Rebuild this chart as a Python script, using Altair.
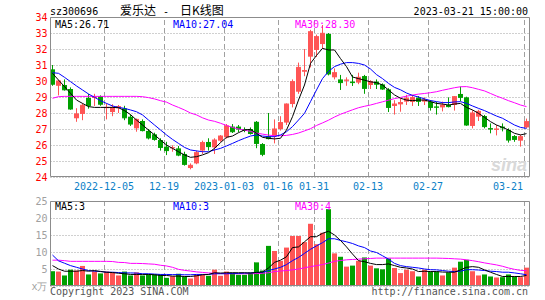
import altair as alt
import pandas as pd

# ---------------- data ----------------
opens = [30.73, 29.7, 29.75, 29.5, 27.67, 27.94, 28.94, 28.94, 29.05, 28.3,
         28.06, 28.3, 28.29, 27.77, 27.04, 27.5, 26.88, 26.67, 26.31, 25.9,
         25.8, 25.79, 25.44, 24.56, 24.85, 25.65, 26.19, 25.85, 26.27, 26.48,
         27.15, 27.15, 27.0, 27.0, 27.45, 26.06, 26.55, 26.55, 27.0, 27.4,
         28.56, 29.33, 30.58, 31.52, 31.94, 32.31, 32.94, 30.23, 30.1, 30.02,
         29.96, 29.9, 30.31, 29.75, 29.96, 29.79, 29.48, 28.44, 28.54, 28.71,
         28.69, 28.96, 28.71, 28.71, 28.4, 28.35, 28.5, 28.5, 29.19, 28.98,
         27.19, 27.77, 27.81, 27.05, 26.95, 27.15, 26.94, 26.56, 26.27, 27.1]
highs = [31.0, 30.05, 30.1, 29.6, 28.3, 28.6, 29.19, 29.2, 29.1, 28.6,
         28.55, 28.5, 28.45, 27.9, 27.65, 27.6, 27.0, 26.77, 26.42, 26.2,
         25.98, 25.94, 25.58, 24.85, 25.65, 26.27, 26.42, 26.42, 26.62, 27.31,
         27.31, 27.25, 27.1, 27.1, 27.5, 26.12, 28.0, 27.6, 27.8, 28.6,
         30.1, 31.15, 32.0, 33.2, 32.9, 33.5, 33.0, 30.79, 30.38, 30.23,
         30.38, 30.52, 30.38, 30.05, 30.1, 29.85, 29.55, 28.8, 28.9, 29.13,
         29.13, 29.06, 28.98, 28.81, 28.7, 28.71, 28.98, 29.06, 29.65, 29.02,
         28.17, 28.2, 27.88, 27.35, 27.25, 27.35, 27.04, 26.62, 26.65, 27.65]
lows = [29.7, 29.1, 29.4, 28.2, 27.45, 27.55, 28.27, 28.44, 28.45, 27.6,
        27.8, 28.0, 27.55, 27.19, 26.83, 26.85, 26.35, 26.27, 25.65, 25.37,
        25.58, 25.3, 24.71, 24.48, 24.8, 25.44, 25.65, 25.44, 26.2, 26.4,
        26.75, 26.8, 26.8, 26.65, 25.8, 25.3, 26.35, 26.1, 26.9, 27.25,
        28.35, 29.2, 30.3, 30.85, 31.5, 32.0, 30.35, 30.1, 29.44, 29.7,
        29.69, 29.8, 29.2, 29.5, 29.5, 29.45, 28.06, 27.9, 28.08, 28.5,
        28.44, 28.44, 28.5, 28.15, 27.9, 28.1, 28.35, 28.15, 28.75, 27.2,
        27.04, 27.5, 27.04, 26.73, 26.6, 26.85, 26.15, 26.2, 25.9, 27.04]
closes = [29.8, 30.0, 29.45, 28.25, 27.94, 28.48, 28.46, 29.0, 28.55, 28.35,
          28.35, 28.4, 27.7, 27.31, 27.6, 26.9, 26.44, 26.35, 25.85, 25.65,
          25.83, 25.37, 24.79, 24.73, 25.52, 26.15, 25.9, 26.31, 26.56, 27.19,
          26.83, 27.0, 26.92, 26.72, 26.1, 25.42, 26.4, 27.0, 27.4, 28.56,
          29.96, 30.85, 30.65, 33.08, 32.77, 32.98, 30.44, 30.52, 29.9, 30.06,
          29.9, 30.23, 29.54, 29.96, 29.8, 29.5, 28.35, 28.56, 28.65, 28.92,
          28.96, 28.73, 28.81, 28.35, 28.36, 28.5, 28.4, 29.02, 28.98, 27.25,
          28.0, 28.1, 27.15, 27.0, 27.0, 27.08, 26.31, 26.35, 26.52, 27.46]
ma5 = [30.48, 30.06, 29.65, 29.23, 28.81, 28.6, 28.4, 28.35, 28.35, 28.35,
       28.35, 28.33, 28.15, 27.9, 27.56, 27.25, 26.94, 26.63, 26.31, 26.0,
       25.79, 25.58, 25.38, 25.23, 25.27, 25.38, 25.52, 25.79, 26.15, 26.48,
       26.56, 26.77, 26.94, 26.98, 26.73, 26.48, 26.42, 26.38, 26.42, 26.94,
       27.77, 28.81, 29.75, 31.1, 31.6, 32.04, 31.94, 31.94, 31.4, 30.9,
       30.25, 30.15, 30.05, 29.95, 29.9, 29.75, 29.44, 29.13, 28.92, 28.81,
       28.77, 28.81, 28.81, 28.71, 28.6, 28.56, 28.5, 28.56, 28.6, 28.35,
       28.19, 27.98, 27.73, 27.46, 27.25, 27.1, 26.94, 26.73, 26.63, 26.71]
ma10 = [30.52, 30.48, 30.23, 29.96, 29.69, 29.44, 29.19, 28.98, 28.77, 28.6,
        28.44, 28.35, 28.29, 28.19, 28.08, 27.88, 27.56, 27.25, 26.94, 26.63,
        26.35, 26.1, 25.85, 25.69, 25.63, 25.58, 25.58, 25.69, 25.79, 25.94,
        26.1, 26.27, 26.42, 26.56, 26.63, 26.56, 26.52, 26.52, 26.63, 26.83,
        27.15, 27.56, 27.98, 28.71, 29.44, 30.15, 30.6, 30.9, 31.05, 31.15,
        31.15, 31.1, 31.0, 30.75, 30.4, 30.15, 29.85, 29.6, 29.45, 29.25,
        29.1, 29.0, 28.88, 28.78, 28.71, 28.65, 28.65, 28.69, 28.71, 28.6,
        28.44, 28.29, 28.15, 27.98, 27.81, 27.67, 27.46, 27.25, 27.1, 27.04]
ma30 = [28.92, 29.02, 29.04, 29.04, 29.04, 29.04, 29.04, 29.04, 29.04, 29.04,
        29.04, 29.04, 29.04, 29.04, 29.04, 29.02, 28.96, 28.88, 28.77, 28.68,
        28.5, 28.35, 28.19, 28.0, 27.88, 27.7, 27.56, 27.48, 27.36, 27.22,
        27.1, 27.0, 26.93, 26.85, 26.75, 26.68, 26.62, 26.58, 26.58, 26.6,
        26.66, 26.75, 26.88, 27.02, 27.22, 27.38, 27.55, 27.75, 27.92, 28.06,
        28.2, 28.33, 28.42, 28.5, 28.6, 28.7, 28.8, 28.9, 28.97, 29.05,
        29.12, 29.18, 29.22, 29.27, 29.33, 29.42, 29.5, 29.58, 29.64, 29.65,
        29.58, 29.48, 29.38, 29.22, 29.06, 28.92, 28.77, 28.64, 28.5, 28.4]
vol = [4.35, 4.25, 3.1, 4.8, 4.55, 5.9, 3.4, 4.35, 3.7, 4.25,
       3.9, 3.1, 4.25, 3.1, 4.0, 3.1, 3.4, 3.4, 3.4, 2.4,
       2.9, 3.6, 2.8, 2.2, 3.4, 3.4, 3.0, 4.8, 3.0, 4.25,
       3.9, 3.3, 3.3, 4.0, 6.95, 4.55, 11.8, 10.3, 7.4, 11.3,
       14.7, 14.7, 12.9, 18.3, 12.3, 15.65, 22.6, 9.6, 8.6, 5.7,
       6.0, 7.4, 8.4, 6.0, 5.2, 4.9, 8.1, 5.3, 3.8, 4.8,
       4.35, 2.8, 4.8, 4.25, 4.25, 3.1, 4.0, 5.4, 7.15, 7.7,
       4.35, 3.1, 3.4, 2.8, 2.5, 2.6, 3.4, 2.8, 2.6, 5.4]
vma5 = [6.0, 5.0, 4.35, 4.35, 4.35, 4.55, 4.35, 4.55, 4.25, 4.05,
        3.95, 3.75, 3.6, 3.4, 3.4, 3.4, 3.4, 3.3, 3.1, 3.1,
        2.9, 2.9, 2.8, 2.8, 3.0, 3.3, 3.4, 3.9, 3.8, 3.9,
        3.9, 3.9, 3.9, 3.8, 4.0, 4.1, 5.3, 6.95, 7.6, 8.6,
        11.3, 11.5, 13.0, 14.5, 14.5, 15.5, 16.1, 15.0, 13.4, 11.5,
        9.4, 7.45, 7.15, 6.65, 6.3, 6.3, 6.5, 6.0, 5.5, 5.3,
        5.0, 4.25, 4.35, 4.25, 4.25, 4.1, 4.05, 4.05, 4.75, 5.5,
        5.7, 5.5, 4.75, 4.05, 3.4, 2.8, 2.8, 2.8, 2.8, 3.1]
vma10 = [9.1, 7.4, 6.7, 6.0, 5.5, 5.0, 4.55, 4.35, 4.3, 4.05,
         4.05, 3.95, 3.85, 3.85, 3.8, 3.6, 3.6, 3.5, 3.4, 3.4,
         3.35, 3.35, 3.3, 3.3, 3.4, 3.4, 3.4, 3.6, 3.6, 3.6,
         3.7, 3.7, 3.8, 3.8, 4.0, 4.0, 4.55, 5.0, 5.5, 6.3,
         7.45, 8.4, 9.6, 10.8, 11.8, 12.75, 13.9, 13.9, 13.4, 13.0,
         12.5, 11.8, 11.3, 10.3, 9.85, 8.9, 7.9, 6.65, 6.0, 5.7,
         5.5, 5.3, 5.0, 4.8, 4.75, 4.55, 4.35, 4.25, 4.35, 4.8,
         4.8, 4.7, 4.55, 4.35, 4.25, 4.05, 4.05, 3.85, 3.6, 3.3]
vma30 = [7.6, 7.6, 7.45, 7.25, 7.25, 7.25, 7.25, 7.25, 7.25, 7.25,
         7.2, 6.95, 6.9, 6.65, 6.65, 6.6, 6.5, 6.4, 6.1, 5.9,
         5.5, 4.9, 4.6, 4.4, 4.15, 4.0, 3.85, 3.75, 3.7, 3.65,
         3.6, 3.6, 3.6, 3.6, 3.65, 3.75, 3.9, 4.25, 4.4, 4.55,
         4.75, 5.0, 5.35, 5.7, 6.0, 6.3, 6.75, 7.25, 7.5, 7.7,
         7.8, 7.9, 8.0, 8.1, 8.2, 8.2, 8.2, 8.2, 8.2, 8.2,
         8.2, 8.2, 8.2, 8.2, 8.2, 8.15, 8.1, 8.0, 7.9, 7.7,
         7.45, 7.15, 6.8, 6.5, 6.2, 5.8, 5.3, 4.9, 4.6, 4.5]
date_idx = [9, 19, 29, 38, 44, 53, 63, 79]
date_labels = ["2022-12-05", "12-19", "2023-01-03", "01-16", "01-31", "02-13", "02-27", "03-21"]
price_ticks = list(range(24, 35))
vol_ticks = [0, 5, 10, 15, 20, 25]
top_ma_text = ["MA5:26.71", "MA10:27.04", "MA30:28.30"]
vol_ma_text = ["MA5:3", "MA10:3", "MA30:4"]

# ---------------- layout constants ----------------
N = len(closes)
W = 480                 # plot width (6 px per trading day)
H_TOP, H_GAP, H_VOL = 160, 24, 85
H = H_TOP + H_GAP + H_VOL
P_LO, P_HI = price_ticks[0], price_ticks[-1]
V_HI = vol_ticks[-1]
P_BOT = P_HI - (P_HI - P_LO) * H / H_TOP     # price scale stretched over whole height
V_TOP = V_HI * H / H_VOL                      # volume scale stretched over whole height
px_x = N / W
px_p = (P_HI - P_LO) / H_TOP
px_v = V_HI / H_VOL

MONO = "DejaVu Sans Mono"
CJK = "Noto Sans CJK SC"
RED, GREEN = "#ff5555", "#00a000"
BLUE, MAG = "#0000ff", "#ff00ff"
GRID = "#a0a0a0"
FRAME = "#8c8c8c"
DATEC = "#0b7fc7"

df = pd.DataFrame({"i": list(range(N)), "open": opens, "high": highs, "low": lows,
                   "close": closes, "ma5": ma5, "ma10": ma10, "ma30": ma30,
                   "vol": vol, "vma5": vma5, "vma10": vma10, "vma30": vma30})
dates = pd.DataFrame({"i": date_idx, "label": date_labels})

xs = alt.Scale(domain=[0, N], nice=False, zero=False)
ysP = alt.Scale(domain=[P_BOT, P_HI], nice=False, zero=False)
ysV = alt.Scale(domain=[0, V_TOP], nice=False, zero=False)

price_axis = alt.Axis(values=price_ticks, title=None, ticks=False, domain=False,
                      labelColor="#ff0000", labelFont=MONO, labelFontSize=10,
                      labelPadding=3, labelFlush=False, labelOverlap=False,
                      grid=True, gridColor=GRID, gridDash=[1, 2], orient="left")
vol_axis = alt.Axis(values=vol_ticks, title=None, ticks=False, domain=False,
                    labelColor="#a0a0a0", labelFont=MONO, labelFontSize=10,
                    labelPadding=3, labelFlush=False, labelOverlap=False,
                    labelExpr="datum.value == 0 ? 'x万' : datum.label",
                    grid=True, gridColor=GRID, gridDash=[1, 2], orient="left")

base = alt.Chart(df).transform_calculate(
    x0="datum.i", x1=f"datum.i + 5 * {px_x}", xc=f"datum.i + 2.5 * {px_x}",
    top="max(datum.open, datum.close)", bot="min(datum.open, datum.close)")
updown = alt.condition("datum.close >= datum.open", alt.value(RED), alt.value(GREEN))


def X(f):
    return alt.X(f, scale=xs, axis=None)


def YP(f):
    return alt.Y(f, scale=ysP, axis=price_axis)


def YV(f):
    return alt.Y(f, scale=ysV, axis=vol_axis)


def label(text, x, y, color="black", align="left", font=MONO, size=10, **kw):
    return alt.Chart(pd.DataFrame({"t": [text]})).mark_text(
        align=align, baseline="alphabetic", font=font, fontSize=size, color=color, **kw
    ).encode(x=alt.value(x), y=alt.value(y), text="t:N")


def frame(lo, hi, scale, axis, px):
    return alt.Chart(pd.DataFrame({"a": [0]})).mark_rect(
        fillOpacity=0, stroke=FRAME, strokeWidth=1
    ).encode(x=alt.XDatum(0.5 * px_x, scale=xs, axis=None), x2=alt.datum(N - 0.5 * px_x),
             y=alt.YDatum(lo + 0.5 * px, scale=scale, axis=axis), y2=alt.datum(hi - 0.5 * px))


def vgrid(lo, hi, scale, axis):
    return alt.Chart(dates).transform_calculate(xg=f"datum.i + 0.5 * {px_x}").mark_rule(
        color=GRID, strokeDash=[5, 3], strokeWidth=1
    ).encode(x=X("xg:Q"), y=alt.YDatum(lo, scale=scale, axis=axis), y2=alt.datum(hi))


# ---- price panel ----
wick = base.mark_rule(strokeWidth=1).encode(x=X("xc:Q"), y=YP("low:Q"), y2="high:Q", color=updown)
body = base.mark_rect().encode(x=X("x0:Q"), x2="x1:Q", y=YP("top:Q"), y2="bot:Q", color=updown)
flat = base.mark_rule(strokeWidth=1).encode(x=X("x0:Q"), x2="x1:Q", y=YP("close:Q"), color=updown)
l5 = base.mark_line(color="black", strokeWidth=1).encode(x=X("xc:Q"), y=YP("ma5:Q"))
l10 = base.mark_line(color=BLUE, strokeWidth=1).encode(x=X("xc:Q"), y=YP("ma10:Q"))
l30 = base.mark_line(color=MAG, strokeWidth=1).encode(x=X("xc:Q"), y=YP("ma30:Q"))

price = alt.layer(
    vgrid(P_LO, P_HI, ysP, price_axis), wick, body, flat, l30, l10, l5,
    frame(P_LO, P_HI, ysP, price_axis, px_p),
)

# ---- volume panel ----
bars = base.mark_rect().encode(x=X("x0:Q"), x2="x1:Q", y=YV("vol:Q"), y2=alt.datum(0), color=updown)
v5 = base.mark_line(color="black", strokeWidth=1).encode(x=X("xc:Q"), y=YV("vma5:Q"))
v10 = base.mark_line(color=BLUE, strokeWidth=1).encode(x=X("xc:Q"), y=YV("vma10:Q"))
v30 = base.mark_line(color=MAG, strokeWidth=1).encode(x=X("xc:Q"), y=YV("vma30:Q"))

volume = alt.layer(
    vgrid(0, V_HI, ysV, vol_axis), bars, v30, v10, v5,
    frame(0, V_HI, ysV, vol_axis, px_v),
)

# ---- texts ----
dl = alt.Chart(dates).transform_filter(f"datum.i < {N - 1}").mark_text(
    font=MONO, fontSize=10, color=DATEC, align="center", baseline="alphabetic"
).encode(x=X("i:Q"), y=alt.value(H_TOP + 13), text="label:N")
dlast = alt.Chart(dates).transform_filter(f"datum.i >= {N - 1}").mark_text(
    font=MONO, fontSize=10, color=DATEC, align="right", baseline="alphabetic", dx=-1
).encode(x=X("i:Q"), y=alt.value(H_TOP + 13), text="label:N")

VY = H_TOP + H_GAP
texts = alt.layer(
    dl, dlast,
    label("sina", 477, 154, color="#d9d9d9", align="right", font="Liberation Sans", size=18,
          fontWeight="bold", fontStyle="italic"),
    label("sz300696", 0, -2),
    label("爱乐达", 70, -2, font=CJK, size=12),
    label("-", 113, -2),
    label("日K线图", 130, -2, font=CJK, size=12),
    label("2023-03-21 15:00:00", 478, -2, align="right"),
    label(top_ma_text[0], 5, 10.5),
    label(top_ma_text[1], 123, 10.5, color=BLUE),
    label(top_ma_text[2], 245, 10.5, color=MAG),
    label(vol_ma_text[0], 5, VY + 8.5),
    label(vol_ma_text[1], 123, VY + 8.5, color=BLUE),
    label(vol_ma_text[2], 245, VY + 8.5, color=MAG),
    label("Copyright 2023 SINA.COM", 0, VY + 94, color="#555555"),
    label("http://finance.sina.com.cn", 478, VY + 94, align="right", color="#555555"),
)

chart = alt.layer(price, volume, texts).resolve_scale(y="independent").properties(
    width=W, height=H,
    autosize=alt.AutoSizeParams(type="none"),
    padding={"left": 50, "top": 17, "right": 545 - 50 - W, "bottom": 300 - 17 - H},
    background="white",
).configure_view(stroke=None)

chart.save("out.html", embed_options={"renderer": "svg", "actions": False})
